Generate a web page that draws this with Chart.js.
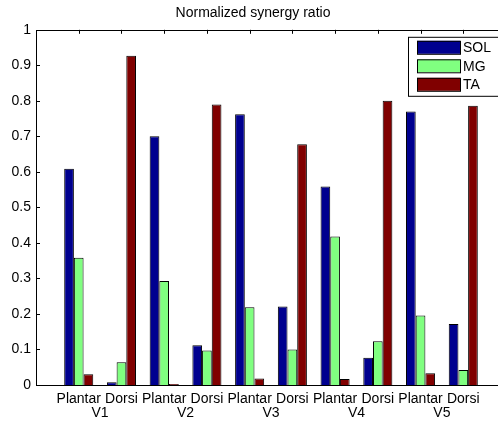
<!DOCTYPE html>
<html lang="en">
<head>
  <meta charset="UTF-8">
  <script src="https://cdn.jsdelivr.net/npm/chart.js"></script>
  <title>Normalized synergy ratio</title>
  <style>
    body {
      margin: 0;
      background: #fff;
      overflow: hidden;
    }
    #wrap {
      width: 498px;
      height: 423px;
      overflow: hidden;
    }
  </style>
</head>
<body>
  <div id="wrap">
    <canvas id="chart" width="512" height="423"></canvas>
  </div>

  <script>
    // chart data
    const groupLabels = ['Plantar', 'Dorsi', 'Plantar', 'Dorsi', 'Plantar', 'Dorsi', 'Plantar', 'Dorsi', 'Plantar', 'Dorsi'];
    const subjectLabels = ['V1', 'V2', 'V3', 'V4', 'V5'];
    const solValues = [0.609, 0.008, 0.700, 0.112, 0.762, 0.221, 0.559, 0.077, 0.770, 0.172];
    const mgValues  = [0.358, 0.064, 0.293, 0.097, 0.219, 0.100, 0.418, 0.123, 0.196, 0.042];
    const taValues  = [0.030, 0.927, 0.003, 0.790, 0.018, 0.678, 0.017, 0.800, 0.033, 0.786];
    const yTicks = [0, 0.1, 0.2, 0.3, 0.4, 0.5, 0.6, 0.7, 0.8, 0.9, 1];

    const FONT = "'Liberation Sans', Arial, Helvetica, sans-serif";

    function toPoints(values) {
      return values.map((v, i) => ({ x: i + 1, y: v }));
    }

    // box round the axes + inward tick marks, drawn under the bars
    const boxPlugin = {
      id: 'axesBox',
      beforeDatasetsDraw(chart) {
        const ctx = chart.ctx;
        const a = chart.chartArea;
        const xs = chart.scales.x;
        const ys = chart.scales.y;
        ctx.save();
        ctx.strokeStyle = '#000';
        ctx.lineWidth = 1;
        ctx.beginPath();
        yTicks.forEach((t) => {
          const py = Math.round(ys.getPixelForValue(t)) + 0.5;
          ctx.moveTo(a.left, py); ctx.lineTo(a.left + 4, py);
          ctx.moveTo(a.right, py); ctx.lineTo(a.right - 4, py);
        });
        groupLabels.forEach((g, i) => {
          const px = Math.round(xs.getPixelForValue(i + 1)) + 0.5;
          ctx.moveTo(px, a.top); ctx.lineTo(px, a.top + 4);
          ctx.moveTo(px, a.bottom); ctx.lineTo(px, a.bottom - 4);
        });
        ctx.stroke();
        ctx.strokeRect(Math.round(a.left) + 0.5, Math.round(a.top) + 0.5,
          Math.round(a.right - a.left), Math.round(a.bottom - a.top));
        ctx.restore();
      }
    };

    // matlab style legend box in the top right corner
    const legendPlugin = {
      id: 'boxLegend',
      afterDatasetsDraw(chart) {
        const ctx = chart.ctx;
        const a = chart.chartArea;
        const x0 = a.right - 98;
        const y0 = a.top + 7;
        ctx.save();
        ctx.fillStyle = '#fff';
        ctx.fillRect(x0, y0, 90, 59);
        ctx.strokeStyle = '#000';
        ctx.lineWidth = 1;
        ctx.strokeRect(x0 + 0.5, y0 + 0.5, 90, 59);
        ctx.font = '14px ' + FONT;
        ctx.textBaseline = 'middle';
        chart.data.datasets.forEach((ds, i) => {
          const ry = y0 + 4 + i * 18.5;
          ctx.fillStyle = ds.backgroundColor;
          ctx.fillRect(x0 + 9, ry, 43, 13);
          ctx.strokeStyle = '#000';
          ctx.strokeRect(x0 + 9.5, ry + 0.5, 43, 13);
          ctx.fillStyle = '#000';
          ctx.fillText(ds.label, x0 + 55, ry + 7.5);
        });
        ctx.restore();
      }
    };

    function barSet(label, values, color) {
      return {
        label: label,
        data: toPoints(values),
        backgroundColor: color,
        borderColor: '#000',
        borderWidth: 1,
        categoryPercentage: 0.68,
        barPercentage: 1.0
      };
    }

    new Chart(document.getElementById('chart'), {
      type: 'bar',
      data: {
        datasets: [
          barSet('SOL', solValues, '#00008F'),
          barSet('MG', mgValues, '#80FF80'),
          barSet('TA', taValues, '#800000')
        ]
      },
      options: {
        responsive: false,
        animation: false,
        layout: { padding: { left: 0, right: 6, top: 0, bottom: 3 } },
        plugins: {
          legend: { display: false },
          tooltip: { enabled: false },
          title: {
            display: true,
            text: 'Normalized synergy ratio',
            color: '#000',
            font: { family: FONT, size: 14, weight: 'normal' },
            padding: { top: 5, bottom: 8 }
          }
        },
        scales: {
          x: {
            type: 'linear',
            min: 0,
            max: 11,
            offset: false,
            grid: { display: false, drawTicks: false },
            border: { display: false },
            afterBuildTicks: (scale) => {
              scale.ticks = groupLabels.map((g, i) => ({ value: i + 1 }));
            },
            afterFit: (scale) => { scale.height = 19; },
            ticks: {
              color: '#000',
              padding: 6,
              maxRotation: 0,
              autoSkip: false,
              font: { family: FONT, size: 14 },
              callback: (v) => groupLabels[v - 1]
            }
          },
          x2: {
            type: 'linear',
            position: 'bottom',
            min: 0,
            max: 11,
            offset: false,
            grid: { display: false, drawTicks: false },
            border: { display: false },
            afterBuildTicks: (scale) => {
              scale.ticks = subjectLabels.map((s, i) => ({ value: 2 * i + 1.5 }));
            },
            afterFit: (scale) => { scale.height = 16; },
            ticks: {
              color: '#000',
              padding: 1,
              maxRotation: 0,
              autoSkip: false,
              font: { family: FONT, size: 14 },
              callback: (v) => subjectLabels[(v - 1.5) / 2]
            }
          },
          y: {
            min: 0,
            max: 1,
            grid: { display: false, drawTicks: false },
            border: { display: false },
            afterBuildTicks: (scale) => {
              scale.ticks = yTicks.map((t) => ({ value: t }));
            },
            afterFit: (scale) => { scale.width = 36; },
            ticks: {
              color: '#000',
              padding: 5,
              font: { family: FONT, size: 14 },
              callback: (v) => String(Math.round(v * 10) / 10)
            }
          }
        }
      },
      plugins: [boxPlugin, legendPlugin]
    });
  </script>
</body>
</html>
